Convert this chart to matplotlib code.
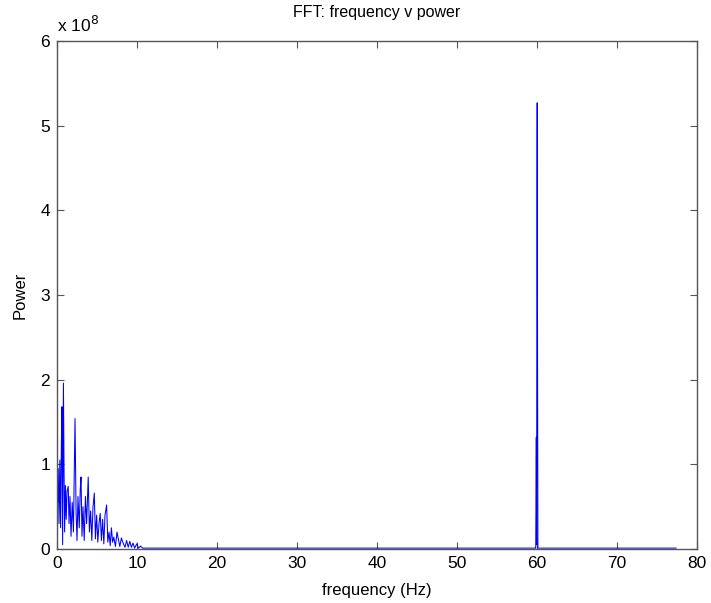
import numpy as np
import matplotlib
matplotlib.use("Agg")
from matplotlib import pyplot as plt

# low frequency part of the spectrum (Hz, power in 1e8)
freq_low = [0.0, 0.08, 0.15, 0.25, 0.35, 0.45, 0.55, 0.62, 0.7, 0.8, 0.88, 0.95,
            1.05, 1.15, 1.25, 1.4, 1.5, 1.62, 1.75, 1.9, 2.05, 2.25, 2.38, 2.5,
            2.62, 2.78, 2.9, 3.0, 3.12, 3.25, 3.4, 3.55, 3.7, 3.9, 4.05, 4.2,
            4.35, 4.5, 4.66, 4.8, 4.95, 5.1, 5.25, 5.4, 5.55, 5.7, 5.85, 6.0,
            6.2, 6.35, 6.5, 6.65, 6.8, 6.95, 7.1, 7.3, 7.5, 7.66, 7.85, 8.05,
            8.3, 8.5, 8.7, 8.9, 9.1, 9.3, 9.5, 9.7, 9.96, 10.2, 10.45, 10.7, 11.0]
power_low = [0.85, 0.55, 0.95, 0.3, 1.05, 0.25, 1.3, 1.68, 0.05, 1.96, 0.9, 0.2,
             0.75, 0.35, 0.68, 0.74, 0.3, 0.62, 0.15, 0.55, 0.2, 1.54, 0.45, 0.1,
             0.62, 0.25, 0.7, 0.85, 0.15, 0.5, 0.1, 0.62, 0.3, 0.85, 0.2, 0.45,
             0.1, 0.5, 0.66, 0.12, 0.4, 0.08, 0.3, 0.42, 0.1, 0.35, 0.06, 0.4,
             0.52, 0.08, 0.2, 0.04, 0.25, 0.08, 0.14, 0.03, 0.2, 0.12, 0.03, 0.13,
             0.06, 0.02, 0.1, 0.02, 0.09, 0.02, 0.07, 0.01, 0.06, 0.01, 0.035, 0.01, 0.01]

# the 60 Hz mains spike
freq_spike = [59.85, 59.92, 59.96, 60.0, 60.03, 60.07, 60.12]
power_spike = [0.01, 1.32, 0.05, 3.95, 5.27, 2.64, 0.01]

# flat floor between and after
freq_floor = [11.5, 30.0, 59.8]
power_floor = [0.01, 0.01, 0.01]
freq_tail = [60.3, 70.0, 77.4]
power_tail = [0.01, 0.01, 0.01]

xticks = [0, 10, 20, 30, 40, 50, 60, 70, 80]
yticks = [0, 1, 2, 3, 4, 5, 6]

freq = np.array(freq_low + freq_floor + freq_spike + freq_tail)
power = np.array(power_low + power_floor + power_spike + power_tail) * 1e8

plt.rcParams["font.family"] = ["Liberation Sans", "DejaVu Sans"]

fig = plt.figure(figsize=(7.11, 6.03), dpi=100)
ax = fig.add_axes([0.0802, 0.0896, 0.9, 0.8424])
ax.plot(freq, power, color="#0000ff", linewidth=0.75)

ax.set_xlim(0, 80)
ax.set_ylim(0, 6e8)
ax.set_xticks(xticks)
ax.set_yticks([t * 1e8 for t in yticks])
ax.set_yticklabels([str(t) for t in yticks])
ax.tick_params(direction="in", top=True, right=True, length=5, labelsize=12.5,
               color="#555555", pad=5)
for s in ax.spines.values():
    s.set_color("#555555")
    s.set_linewidth(1.0)

ax.set_title("FFT: frequency v power", fontsize=11.5, pad=17)
ax.set_xlabel("frequency (Hz)", fontsize=12, labelpad=9)
ax.set_ylabel("Power", fontsize=12, labelpad=9)
ax.text(0.0, 1.012, r"x 10$^{8}$", transform=ax.transAxes, fontsize=12.5,
        ha="left", va="bottom")

fig.savefig("out.png", dpi=100)
